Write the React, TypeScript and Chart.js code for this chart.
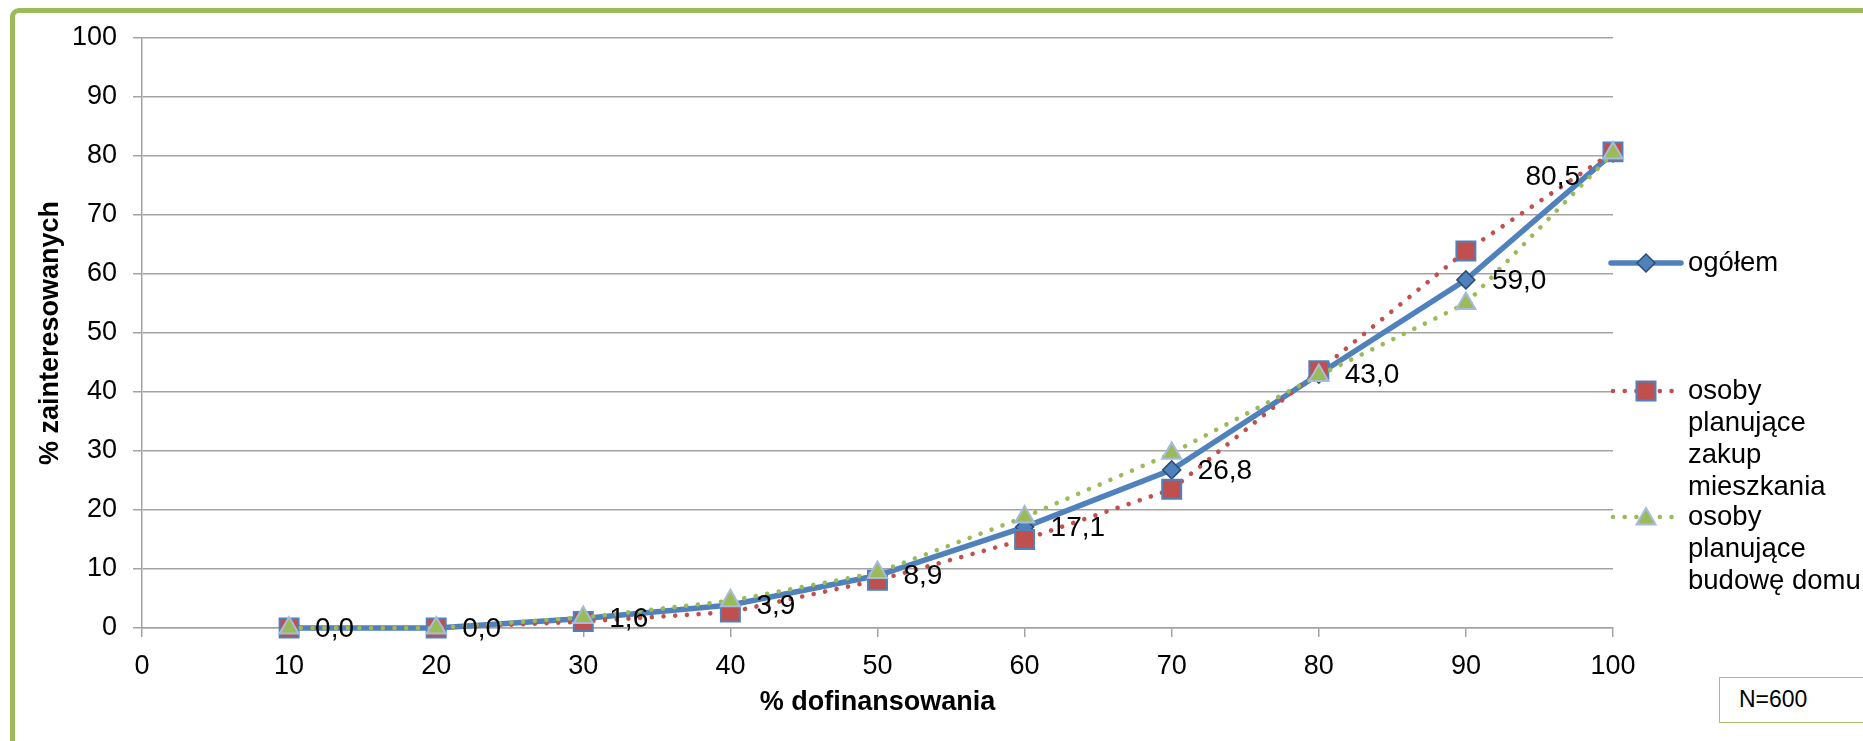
import React, { useEffect, useRef } from 'react';
import { Chart, registerables } from 'chart.js';

Chart.register(...registerables);

const xValues = [10, 20, 30, 40, 50, 60, 70, 80, 90, 100];
const ogolem = [0, 0, 1.6, 3.9, 8.9, 17.1, 26.8, 43.0, 59.0, 80.5];
const mieszkanie = [0, 0, 1.1, 2.7, 8.1, 15.0, 23.5, 43.6, 63.9, 80.7];
const dom = [0, 0, 1.8, 4.6, 9.4, 18.8, 29.6, 42.8, 55.0, 80.5];
const legendLines = [
  ['ogółem'],
  ['osoby', 'planujące', 'zakup', 'mieszkania'],
  ['osoby', 'planujące', 'budowę domu'],
];
const seriesNames = ['ogółem', 'osoby planujące zakup mieszkania', 'osoby planujące budowę domu'];
const xTitle = '% dofinansowania';
const yTitle = '% zainteresowanych';
const noteText = 'N=600';

const FONT = '"Liberation Sans", Arial, sans-serif';
const GRID = '#A3A3A3';
const BLUE = '#4F81BD';
const RED = '#C0504D';
const GREEN = '#9BBB59';

function pathDiamond(ctx: CanvasRenderingContext2D, x: number, y: number, r: number) {
  ctx.beginPath();
  ctx.moveTo(x, y - r);
  ctx.lineTo(x + r, y);
  ctx.lineTo(x, y + r);
  ctx.lineTo(x - r, y);
  ctx.closePath();
}
function pathSquare(ctx: CanvasRenderingContext2D, x: number, y: number, h: number) {
  ctx.beginPath();
  ctx.rect(x - h, y - h, 2 * h, 2 * h);
}
function pathTriangle(ctx: CanvasRenderingContext2D, x: number, y: number, r: number) {
  ctx.beginPath();
  let a = 0;
  ctx.moveTo(x + Math.sin(a) * r, y - Math.cos(a) * r);
  a += (2 * Math.PI) / 3;
  ctx.lineTo(x + Math.sin(a) * r, y - Math.cos(a) * r);
  a += (2 * Math.PI) / 3;
  ctx.lineTo(x + Math.sin(a) * r, y - Math.cos(a) * r);
  ctx.closePath();
}

const overlayPlugin = {
  id: 'overlay',
  afterDatasetsDraw(chart: any) {
    const ctx: CanvasRenderingContext2D = chart.ctx;
    const meta = chart.getDatasetMeta(0);
    ctx.save();
    ctx.font = `28px ${FONT}`;
    ctx.fillStyle = '#000';
    ctx.textBaseline = 'middle';
    meta.data.forEach((p: any, i: number) => {
      const txt = ogolem[i].toFixed(1).replace('.', ',');
      if (i === meta.data.length - 1) {
        ctx.textAlign = 'right';
        ctx.fillText(txt, p.x - 33, p.y + 24);
      } else {
        ctx.textAlign = 'left';
        ctx.fillText(txt, p.x + 26, p.y + 1);
      }
    });
    ctx.restore();
  },
  afterDraw(chart: any) {
    const ctx: CanvasRenderingContext2D = chart.ctx;
    const area = chart.chartArea;
    ctx.save();
    // axis titles
    ctx.fillStyle = '#000';
    ctx.font = `bold 27px ${FONT}`;
    ctx.textAlign = 'center';
    ctx.textBaseline = 'middle';
    ctx.fillText(xTitle, (area.left + area.right) / 2, 703);
    ctx.save();
    ctx.translate(51, (area.top + area.bottom) / 2);
    ctx.rotate(-Math.PI / 2);
    ctx.fillText(yTitle, 0, 0);
    ctx.restore();

    // legend
    const lx0 = 1611;
    const lx1 = 1681;
    const mx = 1646;
    const tx = 1688;
    const ys = [263, 391, 517];
    const lineH = 32;

    // blue entry
    ctx.strokeStyle = BLUE;
    ctx.lineWidth = 5.5;
    ctx.lineCap = 'round';
    ctx.beginPath();
    ctx.moveTo(lx0, ys[0]);
    ctx.lineTo(lx1, ys[0]);
    ctx.stroke();
    pathDiamond(ctx, mx, ys[0], 9);
    ctx.fillStyle = BLUE;
    ctx.fill();
    ctx.lineWidth = 1.5;
    ctx.strokeStyle = '#2C4D75';
    ctx.stroke();

    // dotted entries
    ctx.setLineDash([0.01, 11.7]);
    ctx.lineCap = 'round';
    ctx.lineWidth = 4.6;
    ctx.strokeStyle = RED;
    ctx.beginPath();
    ctx.moveTo(lx0 + 2, ys[1]);
    ctx.lineTo(lx1, ys[1]);
    ctx.stroke();
    ctx.strokeStyle = GREEN;
    ctx.beginPath();
    ctx.moveTo(lx0 + 2, ys[2]);
    ctx.lineTo(lx1, ys[2]);
    ctx.stroke();
    ctx.setLineDash([]);

    pathSquare(ctx, mx, ys[1], 9.5);
    ctx.fillStyle = RED;
    ctx.fill();
    ctx.lineWidth = 2;
    ctx.strokeStyle = BLUE;
    ctx.stroke();

    pathTriangle(ctx, mx, ys[2] + 2, 11);
    ctx.fillStyle = GREEN;
    ctx.fill();
    ctx.lineWidth = 2;
    ctx.strokeStyle = '#A7BBDD';
    ctx.stroke();

    ctx.fillStyle = '#000';
    ctx.font = `27.5px ${FONT}`;
    ctx.textAlign = 'left';
    ctx.textBaseline = 'middle';
    legendLines.forEach((lines, k) => {
      lines.forEach((t, j) => ctx.fillText(t, tx, ys[k] + j * lineH));
    });
    ctx.restore();
  },
};

export default function App() {
  const ref = useRef<HTMLCanvasElement | null>(null);
  useEffect(() => {
    if (!ref.current) return;
    const mk = (arr: number[]) => xValues.map((x, i) => ({ x, y: arr[i] }));
    const chart = new Chart(ref.current, {
      type: 'line',
      data: {
        datasets: [
          {
            label: seriesNames[0],
            data: mk(ogolem),
            borderColor: BLUE,
            borderWidth: 5.5,
            pointStyle: 'rectRot',
            pointRadius: 9,
            pointBackgroundColor: BLUE,
            pointBorderColor: '#2C4D75',
            pointBorderWidth: 1.5,
            tension: 0,
            clip: false,
            order: 2,
          },
          {
            label: seriesNames[1],
            data: mk(mieszkanie),
            borderColor: RED,
            borderWidth: 4.6,
            borderDash: [0.01, 11.7],
            borderCapStyle: 'round',
            pointStyle: 'rect',
            pointRadius: 13.4,
            pointBackgroundColor: RED,
            pointBorderColor: BLUE,
            pointBorderWidth: 2,
            tension: 0,
            clip: false,
            order: 1,
          },
          {
            label: seriesNames[2],
            data: mk(dom),
            borderColor: GREEN,
            borderWidth: 4.6,
            borderDash: [0.01, 11.7],
            borderCapStyle: 'round',
            pointStyle: 'triangle',
            pointRadius: 11,
            pointBackgroundColor: GREEN,
            pointBorderColor: '#A7BBDD',
            pointBorderWidth: 2,
            tension: 0,
            clip: false,
            order: 0,
          },
        ],
      } as any,
      options: {
        responsive: false,
        animation: false,
        layout: { padding: { left: 0, top: 38, right: 250, bottom: 0 } },
        plugins: { legend: { display: false }, tooltip: { enabled: false } },
        scales: {
          x: {
            type: 'linear',
            min: 0,
            max: 100,
            ticks: {
              stepSize: 10,
              color: '#000',
              font: { family: FONT, size: 27 },
              padding: 13,
              maxRotation: 0,
              autoSkip: false,
            },
            grid: { drawOnChartArea: false, drawTicks: true, tickLength: 9, color: GRID, lineWidth: 1.5 },
            border: { color: GRID, width: 1.5 },
            afterFit: (s: any) => {
              s.height = 113;
            },
          },
          y: {
            min: 0,
            max: 100,
            ticks: {
              stepSize: 10,
              color: '#000',
              font: { family: FONT, size: 27 },
              padding: 16,
            },
            grid: { color: GRID, lineWidth: 1.5, tickLength: 9 },
            border: { color: GRID, width: 1.5 },
            afterFit: (s: any) => {
              s.width = 142;
            },
          },
        },
      } as any,
      plugins: [overlayPlugin],
    });
    return () => chart.destroy();
  }, []);

  return (
    <div style={{ position: 'absolute', left: 0, top: 0, width: 1863, height: 741, overflow: 'hidden', background: '#fff' }}>
      <div
        style={{
          position: 'absolute',
          left: 10,
          top: 8,
          width: 1950,
          height: 800,
          border: `5px solid ${GREEN}`,
          borderRadius: 9,
          boxSizing: 'border-box',
        }}
      />
      <canvas ref={ref} width={1863} height={741} style={{ position: 'absolute', left: 0, top: 0, display: 'block' }} />
      <div
        style={{
          position: 'absolute',
          left: 1719,
          top: 677,
          width: 200,
          height: 46,
          border: '1.5px solid #A4C26C',
          boxSizing: 'border-box',
          fontFamily: FONT,
          fontSize: 23,
          lineHeight: '43px',
          paddingLeft: 19,
          color: '#000',
          background: '#fff',
        }}
      >
        {noteText}
      </div>
    </div>
  );
}
